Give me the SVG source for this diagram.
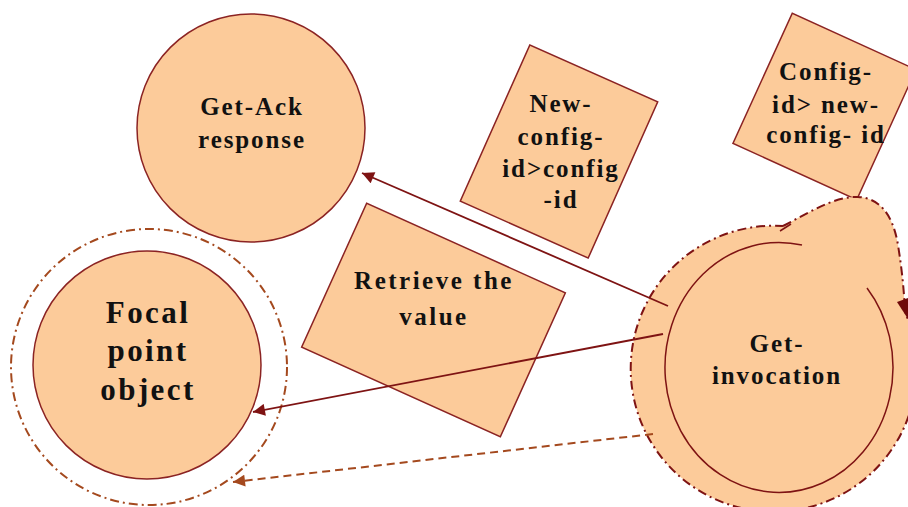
<svg xmlns="http://www.w3.org/2000/svg" width="908" height="507" viewBox="0 0 908 507">
<style>
.shape{fill:#FCCB9A;stroke:#8B2323;stroke-width:1.5}
.lbl{font-family:"Liberation Serif","Times New Roman",serif;font-weight:bold;font-size:25px;fill:#111;text-anchor:middle;letter-spacing:1.9px}
.big{font-size:31px;letter-spacing:2.4px}
.edge{stroke:#7E1313;stroke-width:1.8;fill:none}
.dedge{stroke:#A4491E;stroke-width:2;fill:none;stroke-dasharray:8 5}
.ring{fill:none;stroke:#A4491E;stroke-width:2;stroke-dasharray:9 4 2 4}
</style>
<defs>
<marker id="ahb" viewBox="0 0 10 10" refX="10" refY="5" markerWidth="14" markerHeight="12" markerUnits="userSpaceOnUse" orient="auto">
<path d="M0,0 L10,5 L0,10 z" fill="#A4491E"/>
</marker>
<marker id="ahr" viewBox="0 0 10 10" refX="10" refY="5" markerWidth="15" markerHeight="12" markerUnits="userSpaceOnUse" orient="auto">
<path d="M0,0 L10,5 L0,10 z" fill="#7E1313"/>
</marker>
</defs>

<g id="get-ack">
<circle class="shape" cx="251" cy="128" r="114"/>
<text class="lbl" x="252" y="115">Get-Ack</text>
<text class="lbl" x="252" y="148">response</text>
</g>

<g id="focal-point">
<circle class="ring" cx="149" cy="367" r="138"/>
<circle class="shape" cx="147" cy="365" r="114"/>
<text class="lbl big" x="148" y="323">Focal</text>
<text class="lbl big" x="148" y="361">point</text>
<text class="lbl big" x="148" y="400">object</text>
</g>

<g id="new-config">
<rect class="shape" x="-70" y="-85.5" width="140" height="171" transform="translate(559,151.5) rotate(24)"/>
<text class="lbl" x="561" y="112">New-</text>
<text class="lbl" x="561" y="145">config-</text>
<text class="lbl" x="561" y="177">id&gt;config</text>
<text class="lbl" x="561" y="208">-id</text>
</g>

<g id="config-id">
<rect class="shape" x="-68" y="-71.5" width="136" height="143" transform="translate(824.5,106.5) rotate(24.5)"/>
<text class="lbl" x="826" y="80">Config-</text>
<text class="lbl" x="826" y="113">id&gt; new-</text>
<text class="lbl" x="826" y="143">config- id</text>
</g>

<g id="retrieve">
<rect class="shape" x="-109" y="-79" width="218" height="158" transform="translate(433.5,320) rotate(24.3)"/>
<text class="lbl" style="letter-spacing:2.5px" x="434" y="289">Retrieve the</text>
<text class="lbl" style="letter-spacing:2.5px" x="434" y="325">value</text>
</g>

<g id="get-invocation">
<path d="M783,226 C810,212 835,196 858,197 C880,198 893,215 898,245 C902,270 904,290 905,312 A143 143 0 1 1 783,226 Z" fill="#FCCB9A" stroke="none"/>
<path d="M783,226 C810,212 835,196 858,197 C880,198 893,215 898,245 C902,270 904,290 905,312 A143 143 0 1 1 783,226" fill="none" stroke="#7E1313" stroke-width="2" stroke-dasharray="9 4 2 4"/>
<path d="M780,231 L791,224" stroke="#7E1313" stroke-width="1.5"/>
<polygon points="897,302 913,296 910,322" fill="#6E0A0A"/>
<path d="M867,288 A114 125 0 1 1 802,245" fill="none" stroke="#7E1313" stroke-width="1.5"/>
<text class="lbl" x="777" y="352">Get-</text>
<text class="lbl" x="777" y="384">invocation</text>
</g>

<g id="connectors">
<line class="edge" x1="668" y1="306" x2="362" y2="173" marker-end="url(#ahr)"/>
<line class="edge" x1="663" y1="334" x2="253" y2="412" marker-end="url(#ahr)"/>
<line class="dedge" x1="653" y1="434" x2="233" y2="482" marker-end="url(#ahb)"/>
</g>
</svg>
